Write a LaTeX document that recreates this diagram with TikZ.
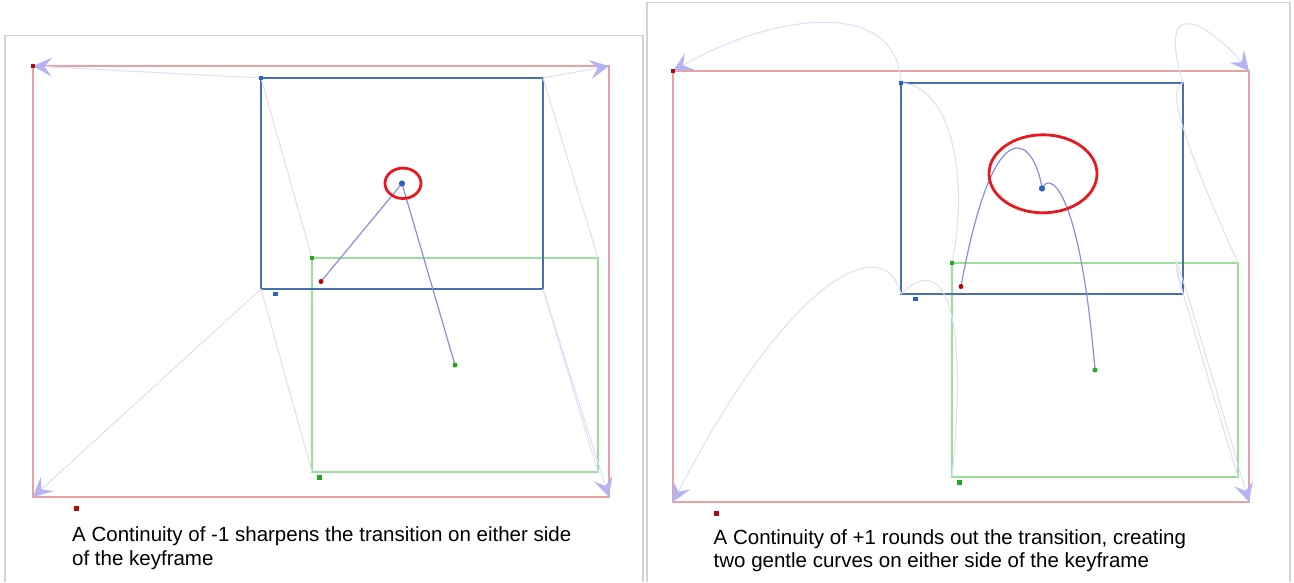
\documentclass[tikz,border=0pt]{standalone}
\usepackage{fontspec}
\setmainfont{Liberation Sans}
\usetikzlibrary{arrows.meta}
\definecolor{panelgray}{HTML}{D4D4D4}
\definecolor{keyred}{HTML}{E8A2A4}
\definecolor{keyblue}{HTML}{4870AC}
\definecolor{keygreen}{HTML}{9ADF9A}
\definecolor{dotred}{HTML}{B00A0A}
\definecolor{dotblue}{HTML}{2A62BE}
\definecolor{dotgreen}{HTML}{22AA22}
\definecolor{trackblue}{HTML}{8C8CE4}
\definecolor{ghostblue}{HTML}{DEDEF9}
\definecolor{tipblue}{HTML}{B4B4F3}
\definecolor{ringred}{HTML}{E8191E}

% small square marker
\newcommand{\sqdot}[2]{\fill[#1] (#2) ++(-2.4,-2.4) rectangle ++(4.8,4.8);}

% the three keyframe boxes, corners 1..4 clockwise from top left
\newcommand{\keyboxes}[1]{%
  \coordinate (#1-r1) at (33,66);   \coordinate (#1-r2) at (609,66);
  \coordinate (#1-r3) at (609,497); \coordinate (#1-r4) at (33,497);
  \coordinate (#1-b1) at (261,78);  \coordinate (#1-b2) at (543,78);
  \coordinate (#1-b3) at (543,289); \coordinate (#1-b4) at (261,289);
  \coordinate (#1-g1) at (312,258); \coordinate (#1-g2) at (598,258);
  \coordinate (#1-g3) at (598,472); \coordinate (#1-g4) at (312,472);
  \coordinate (#1-rc) at (321,281.5);
  \coordinate (#1-bc) at (402,183.5);
  \coordinate (#1-gc) at (455,365);
  \draw[redkey] (#1-r1) rectangle (#1-r3);
  \draw[greenkey] (#1-g1) rectangle (#1-g3);
  \draw[bluekey] (#1-b1) rectangle (#1-b3);
}

\newcommand{\keydots}[1]{%
  \sqdot{dotred}{#1-r1} \sqdot{dotblue}{#1-b1} \sqdot{dotgreen}{#1-g1}
  \sqdot{dotred}{76.5,508.5} \sqdot{dotblue}{275.5,294} \sqdot{dotgreen}{319.5,477.5}
  \fill[dotred] (#1-rc) circle (2.5);
  \fill[dotgreen] (#1-gc) circle (2.5);
  \fill[dotblue] (#1-bc) circle (3.1);
}

\begin{document}
\begin{tikzpicture}[x=1pt, y=-1pt,
    panel/.style={draw=panelgray, line width=1.5pt},
    redkey/.style={draw=keyred, line width=1.5pt},
    bluekey/.style={draw=keyblue, line width=2pt},
    greenkey/.style={draw=keygreen, line width=1.4pt},
    ghost/.style={draw=ghostblue, line width=1pt},
    tipped/.style={ghost, -{Stealth[length=19pt, width=19pt, inset=7.5pt, color=tipblue]}},
    track/.style={draw=trackblue, line width=1.2pt},
    ring/.style={draw=ringred, line width=2.8pt},
    caption/.style={anchor=north west, inner sep=0pt, align=left, text=black,
      font=\fontsize{20.5}{23.5}\selectfont}]
  \path[use as bounding box, fill=white] (0,0) rectangle (1294,582);
  \draw[panel] (5,582) -- (5,35.5) -- (643,35.5) -- (643,582);
  \draw[panel] (647,582) -- (647,2.5) -- (1290,2.5) -- (1290,582);

  % continuity -1
  \begin{scope}
    \keyboxes{a}
    \foreach \k in {1,2,3,4} {
      \draw[tipped] (a-b\k) -- (a-r\k);
      \draw[ghost] (a-b\k) -- (a-g\k);
    }
    \draw[track] (a-rc) -- (a-bc) -- (a-gc);
    \keydots{a}
    \draw[ring] (403,183.3) ellipse (18 and 15.2);
  \end{scope}

  % continuity +1
  \begin{scope}[shift={(640,5)}]
    \keyboxes{b}
    \draw[tipped] (b-b1) .. controls (258,-5) and (140,5) .. (b-r1);
    \draw[ghost] (b-b1) .. controls (310,80) and (330,170) .. (b-g1);
    \draw[tipped] (b-b2) .. controls (515,-15) and (570,20) .. (b-r2);
    \draw[ghost] (b-b2) .. controls (525,82) and (545,140) .. (b-g2);
    \draw[tipped] (b-b3) .. controls (525,215) and (538,255) .. (b-r3);
    \draw[ghost] (b-b3) .. controls (525,225) and (540,280) .. (b-g3);
    \draw[tipped] (b-b4) .. controls (245,225) and (150,270) .. (b-r4);
    \draw[ghost] (b-b4) .. controls (300,250) and (330,290) .. (b-g4);
    \draw[track] (b-rc) .. controls (355,95) and (395,135) .. (b-bc)
      .. controls (410,165) and (440,185) .. (b-gc);
    \keydots{b}
    \draw[ring] (403,168.8) ellipse (54 and 39);
  \end{scope}

  \node[caption] (capA) at (72,526.5) {A Continuity of -1 sharpens the transition on either side\\of the keyframe};
  \node[caption] (capB) at (713.5,529.2) {A Continuity of +1 rounds out the transition, creating\\two gentle curves on either side of the keyframe};
\end{tikzpicture}
\end{document}
